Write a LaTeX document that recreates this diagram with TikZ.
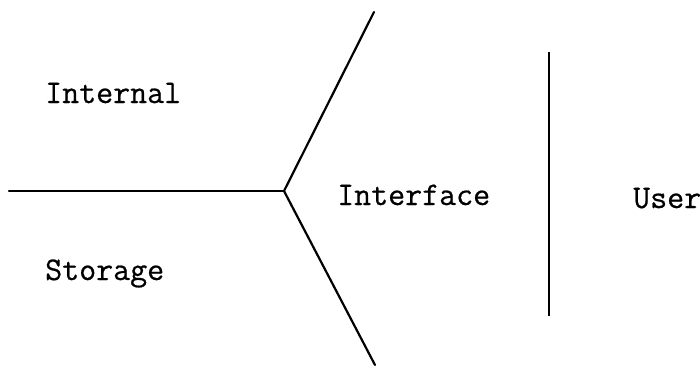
\documentclass[tikz,border=0pt]{standalone}
\usepackage{fontspec}
\newfontfamily\labelfont{Latin Modern Mono}[FakeBold=0.6]
\begin{document}
\begin{tikzpicture}[x=1pt,y=-1pt,
  lbl/.style={anchor=base west,inner sep=0pt,font=\fontsize{33}{39}\labelfont},
  wall/.style={line width=2.2pt,line cap=round,line join=miter},
  thin/.style={line width=1.6pt}]
\useasboundingbox (0,0) rectangle (700,367);
\coordinate (left) at (9,191);
\coordinate (j) at (284,191);
\coordinate (top) at (374,12);
\coordinate (bot) at (375,365);
\coordinate (vtop) at (549,52);
\coordinate (vbot) at (549,316);
\draw[wall] (left) -- (j);
\draw[wall] (top) -- (j) -- (bot);
\draw[thin] (vtop) -- (vbot);
\node[lbl] (internal) at (45,103) {Internal};
\node[lbl] (storage) at (45,280) {Storage};
\node[lbl] (interface) at (337,205) {Interface};
\node[lbl] (user) at (633,208) {User};
\end{tikzpicture}
\end{document}
